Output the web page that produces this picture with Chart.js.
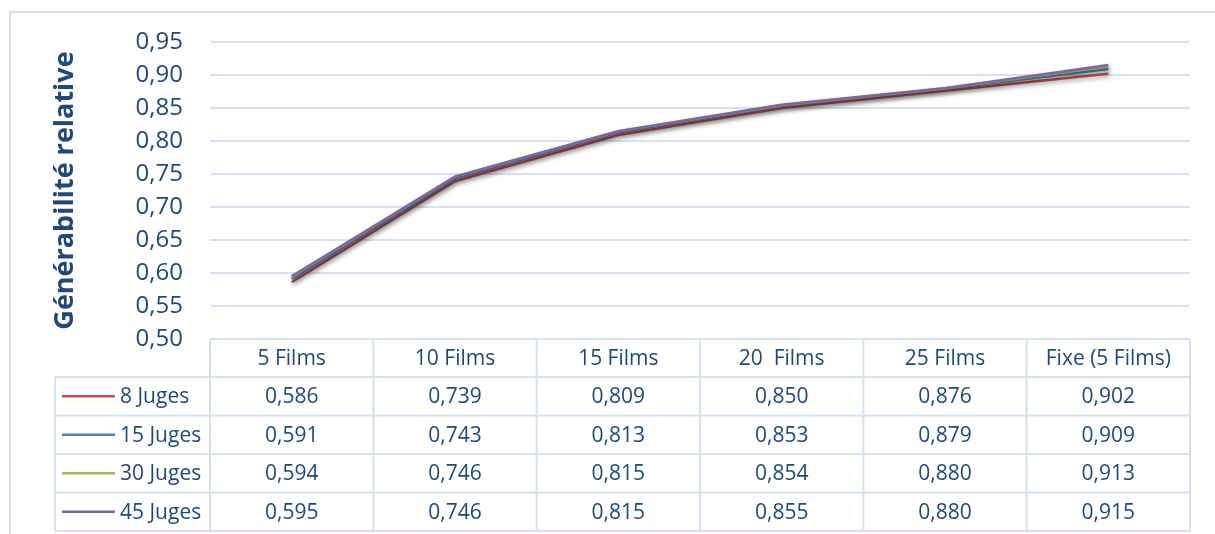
<!DOCTYPE html>
<html><head><meta charset="utf-8">
<script src="https://cdn.jsdelivr.net/npm/chart.js@4/dist/chart.umd.min.js"></script>
<style>html,body{margin:0;padding:0;background:#fff;}canvas{display:block;}</style>
</head><body>
<canvas id="c" width="1215" height="534"></canvas>
<script>
const categories = ['5 Films', '10 Films', '15 Films', '20  Films', '25 Films', 'Fixe (5 Films)'];
const seriesNames = ['8 Juges', '15 Juges', '30 Juges', '45 Juges'];
const juges8  = [0.586, 0.739, 0.809, 0.850, 0.876, 0.902];
const juges15 = [0.591, 0.743, 0.813, 0.853, 0.879, 0.909];
const juges30 = [0.594, 0.746, 0.815, 0.854, 0.880, 0.913];
const juges45 = [0.595, 0.746, 0.815, 0.855, 0.880, 0.915];
const yTicks = [0.50, 0.55, 0.60, 0.65, 0.70, 0.75, 0.80, 0.85, 0.90, 0.95];
const axisTitle = 'Générabilité relative';

const colors = ['#c0504d', '#4f81bd', '#9bbb59', '#8064a2'];
const seriesValues = [juges8, juges15, juges30, juges45];
const TEXT = '#1f497d';
const GRID = '#d6e2f3';
const FONT = "'Open Sans', sans-serif";
const fmt = (v, d) => v.toFixed(d).replace('.', ',');

const shadowPlugin = {
  id: 'shadow',
  beforeDatasetDraw(chart) {
    const ctx = chart.ctx;
    ctx.save();
    ctx.shadowColor = 'rgba(0,0,0,0.35)';
    ctx.shadowBlur = 4;
    ctx.shadowOffsetX = 1.5;
    ctx.shadowOffsetY = 2.5;
  },
  afterDatasetDraw(chart) { chart.ctx.restore(); }
};

const tablePlugin = {
  id: 'dataTable',
  beforeDraw(chart) {
    const ctx = chart.ctx;
    ctx.save();
    ctx.fillStyle = '#fff';
    ctx.fillRect(0, 0, chart.width, chart.height);
    ctx.strokeStyle = GRID;
    ctx.lineWidth = 2;
    ctx.beginPath();
    ctx.moveTo(10, 534); ctx.lineTo(10, 12); ctx.lineTo(1215, 12);
    ctx.stroke();
    ctx.restore();
  },
  afterDraw(chart) {
    const ctx = chart.ctx;
    const area = chart.chartArea;
    const xs = chart.scales.x;
    const n = categories.length;
    const colW = (area.right - area.left) / n;
    const top = area.bottom;
    const headerH = 38;
    const rowH = 38.5;
    const legendLeft = 55;
    ctx.save();
    ctx.strokeStyle = GRID;
    ctx.lineWidth = 2;
    ctx.beginPath();
    ctx.moveTo(area.left, top); ctx.lineTo(area.right, top);
    for (let r = 0; r <= seriesNames.length; r++) {
      const y = top + headerH + r * rowH;
      ctx.moveTo(legendLeft, y); ctx.lineTo(area.right, y);
    }
    const bottom = top + headerH + seriesNames.length * rowH;
    for (let c = 0; c <= n; c++) {
      const x = area.left + c * colW;
      ctx.moveTo(x, top); ctx.lineTo(x, bottom);
    }
    ctx.moveTo(legendLeft, top + headerH); ctx.lineTo(legendLeft, bottom);
    ctx.stroke();

    ctx.fillStyle = TEXT;
    ctx.font = "21px " + FONT;
    ctx.textBaseline = 'middle';
    ctx.textAlign = 'center';
    categories.forEach((cat, i) => {
      ctx.fillText(cat, xs.getPixelForValue(i), top + headerH / 2 + 1);
    });
    seriesNames.forEach((name, r) => {
      const yc = top + headerH + r * rowH + rowH / 2 + 1;
      ctx.textAlign = 'center';
      seriesValues[r].forEach((v, i) => {
        ctx.fillText(fmt(v, 3), xs.getPixelForValue(i), yc);
      });
      ctx.strokeStyle = colors[r];
      ctx.lineWidth = 2.5;
      ctx.beginPath();
      ctx.moveTo(62, yc - 1); ctx.lineTo(115, yc - 1);
      ctx.stroke();
      ctx.textAlign = 'left';
      ctx.fillText(name, 120, yc);
    });
    ctx.restore();
  }
};

const datasets = seriesNames.map((name, i) => ({
  label: name,
  data: seriesValues[i],
  borderColor: colors[i],
  backgroundColor: colors[i],
  borderWidth: 2.5,
  pointRadius: 0,
  tension: 0,
  fill: false,
  order: seriesNames.length - i
}));

new Chart(document.getElementById('c'), {
  type: 'line',
  data: { labels: categories, datasets },
  plugins: [tablePlugin, shadowPlugin],
  options: {
    responsive: false,
    animation: false,
    layout: { padding: { left: 10, right: 25, top: 42, bottom: 195 } },
    plugins: { legend: { display: false }, tooltip: { enabled: false } },
    scales: {
      x: { display: false, offset: true },
      y: {
        min: 0.5, max: 0.95,
        afterFit(s) { s.width = 200; },
        afterBuildTicks(s) { s.ticks = yTicks.map(v => ({ value: v })); },
        border: { display: false },
        grid: { color: GRID, lineWidth: 2, drawTicks: false },
        ticks: {
          padding: 27,
          color: TEXT,
          font: { family: FONT, size: 24 },
          callback: v => fmt(v, 2)
        },
        title: {
          display: true,
          text: axisTitle,
          color: TEXT,
          font: { family: FONT, size: 27, weight: 'bold' },
          padding: { top: 39, bottom: 0 }
        }
      }
    }
  }
});
</script>
</body></html>
